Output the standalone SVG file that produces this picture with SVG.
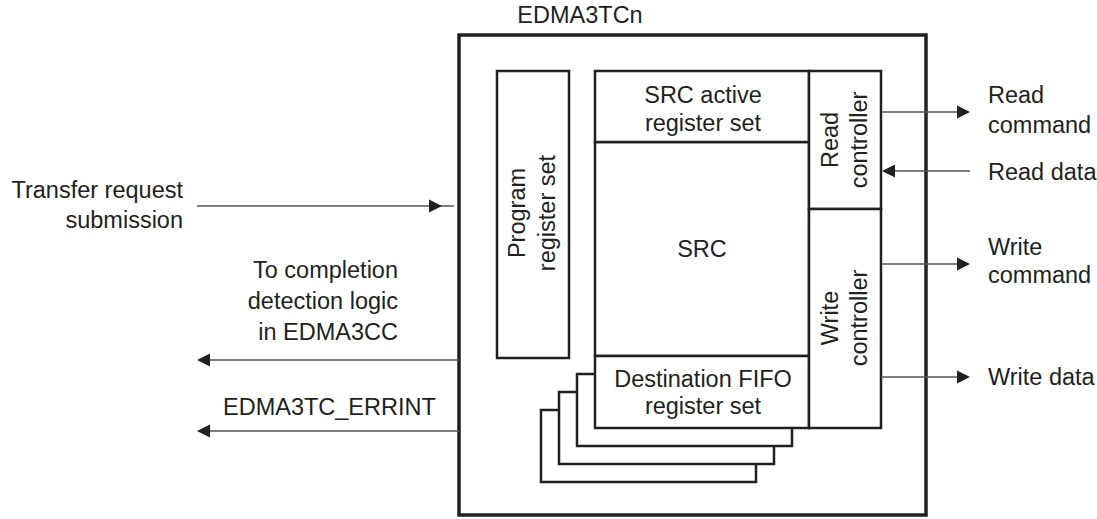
<svg xmlns="http://www.w3.org/2000/svg" width="1097" height="519" viewBox="0 0 1097 519">
<style>
text{font-family:"Liberation Sans",Arial,sans-serif;font-size:23.5px;fill:#231f20}
.box{fill:#fff;stroke:#231f20;stroke-width:2.5}
.outer{fill:none;stroke:#231f20;stroke-width:3.5}
.ln{stroke:#555;stroke-width:1.5;fill:none}
.ah{fill:#231f20}
.mid{text-anchor:middle}
.end{text-anchor:end}
</style>
<rect width="1097" height="519" fill="#fff"/>
<g id="edma3tc">
<rect class="outer" x="459" y="35" width="467" height="480"/>
<text class="mid" x="580" y="23">EDMA3TCn</text>
</g>
<g id="program-register-set">
<rect class="box" x="497" y="71" width="72" height="287"/>
<text class="mid" transform="translate(525 213) rotate(-90)" x="0" y="0">Program</text>
<text class="mid" transform="translate(555 213) rotate(-90)" x="0" y="0">register set</text>
</g>
<g id="dest-fifo-stack">
<rect class="box" x="541" y="410" width="215" height="72"/>
<rect class="box" x="559" y="392" width="215" height="72"/>
<rect class="box" x="577" y="374" width="215" height="72"/>
</g>
<g id="src">
<rect class="box" x="595" y="142" width="214" height="214"/>
<text class="mid" x="702" y="257">SRC</text>
</g>
<g id="src-active-register-set">
<rect class="box" x="595" y="71" width="214" height="71"/>
<text class="mid" x="703" y="103">SRC active</text>
<text class="mid" x="703" y="131">register set</text>
</g>
<g id="destination-fifo-register-set">
<rect class="box" x="595" y="356" width="214" height="72"/>
<text class="mid" x="703" y="387">Destination FIFO</text>
<text class="mid" x="703" y="414">register set</text>
</g>
<g id="read-controller">
<rect class="box" x="809" y="71" width="72" height="138"/>
<text class="mid" transform="translate(838 140) rotate(-90)" x="0" y="0">Read</text>
<text class="mid" transform="translate(867 140) rotate(-90)" x="0" y="0">controller</text>
</g>
<g id="write-controller">
<rect class="box" x="809" y="209" width="72" height="219"/>
<text class="mid" transform="translate(838 318) rotate(-90)" x="0" y="0">Write</text>
<text class="mid" transform="translate(867 318) rotate(-90)" x="0" y="0">controller</text>
</g>
<g id="connectors">
<line class="ln" x1="197" y1="206" x2="454" y2="206"/>
<polygon class="ah" points="442,206 429,199.5 429,212.5"/>
<line class="ln" x1="205" y1="360" x2="459" y2="360"/>
<polygon class="ah" points="197,360 210,353.5 210,366.5"/>
<line class="ln" x1="205" y1="431" x2="459" y2="431"/>
<polygon class="ah" points="197,431 210,424.5 210,437.5"/>
<line class="ln" x1="881" y1="112" x2="962" y2="112"/>
<polygon class="ah" points="970,112 957,105.5 957,118.5"/>
<line class="ln" x1="890" y1="171" x2="970" y2="171"/>
<polygon class="ah" points="882,171 895,164.5 895,177.5"/>
<line class="ln" x1="881" y1="264" x2="962" y2="264"/>
<polygon class="ah" points="970,264 957,257.5 957,270.5"/>
<line class="ln" x1="881" y1="377" x2="962" y2="377"/>
<polygon class="ah" points="970,377 957,370.5 957,383.5"/>
</g>
<g id="labels">
<text class="end" x="183" y="198">Transfer request</text>
<text class="end" x="183" y="228">submission</text>
<text class="end" x="398" y="278">To completion</text>
<text class="end" x="398" y="309">detection logic</text>
<text class="end" x="398" y="340">in EDMA3CC</text>
<text x="223" y="415">EDMA3TC_ERRINT</text>
<text x="988" y="103">Read</text>
<text x="988" y="133">command</text>
<text x="988" y="180">Read data</text>
<text x="988" y="255">Write</text>
<text x="988" y="283">command</text>
<text x="988" y="385">Write data</text>
</g>
</svg>
